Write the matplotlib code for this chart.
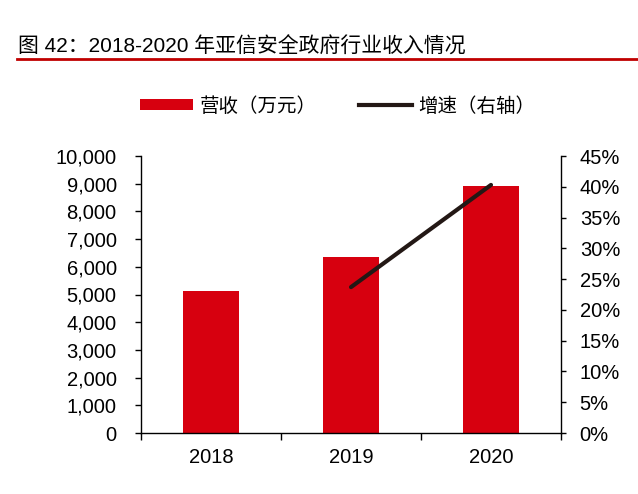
import matplotlib
matplotlib.use("Agg")
import matplotlib.pyplot as plt
from matplotlib.ticker import FuncFormatter, FixedLocator
from matplotlib.patches import Patch
from matplotlib.lines import Line2D

plt.rcParams['font.family'] = ['Liberation Sans', 'Noto Sans CJK SC', 'DejaVu Sans']

years = ["2018", "2019", "2020"]
revenue = [5140, 6340, 8910]          # 万元
growth_years = ["2019", "2020"]
growth = [23.7, 40.3]                  # %

title = "图 42：2018-2020 年亚信安全政府行业收入情况"
bar_label = "营收（万元）"
line_label = "增速（右轴）"

bar_color = "#D7000F"
line_color = "#231815"
mixed = ['Liberation Sans', 'Noto Sans CJK SC']
cjk = ['Noto Sans CJK SC', 'Liberation Sans']

fig = plt.figure(figsize=(6.38, 4.94), dpi=100)
ax = fig.add_axes([141/638, 1-433/494, 420/638, 277/494])

x = list(range(len(years)))
ax.bar(x, revenue, width=0.4, color=bar_color, zorder=2)
ax.set_xlim(-0.5, 2.5)
ax.set_ylim(0, 10000)
ax.set_yticks(range(0, 10001, 1000))
ax.yaxis.set_major_formatter(FuncFormatter(lambda v, p: f"{int(v):,}"))
ax.set_xticks(x)
ax.set_xticklabels(years)
ax.xaxis.set_minor_locator(FixedLocator([-0.5, 0.5, 1.5, 2.5]))
ax.tick_params(axis='x', which='major', length=0, labelsize=14.5, pad=11)
ax.tick_params(axis='x', which='minor', length=5, width=1, direction='out')
ax.tick_params(axis='y', labelsize=14.5, length=4.5, width=1, direction='out', pad=13)
ax.spines['top'].set_visible(False)
ax.spines['right'].set_visible(False)
for s in ['left', 'bottom']:
    ax.spines[s].set_linewidth(1)

ax2 = ax.twinx()
gx = [years.index(y) for y in growth_years]
ax2.plot(gx, growth, color=line_color, linewidth=3, solid_capstyle='round', zorder=3)
ax2.set_ylim(0, 45)
ax2.set_yticks(range(0, 46, 5))
ax2.yaxis.set_major_formatter(FuncFormatter(lambda v, p: f"{int(v)}%"))
ax2.tick_params(axis='y', labelsize=14.5, length=3.5, width=1, direction='out', pad=10)
ax2.spines['top'].set_visible(False)
ax2.spines['left'].set_visible(False)
ax2.spines['bottom'].set_visible(False)
ax2.spines['right'].set_linewidth(1)

# Title and rule
fig.text(18/638, 1-47/494, title, fontsize=15, va='center', ha='left', family=mixed)
fig.add_artist(Line2D([17/638, 1.0], [1-59.5/494, 1-59.5/494], color="#C00000", linewidth=2))

# Legend
handles = [Patch(facecolor=bar_color, edgecolor='none'),
           Line2D([0], [0], color=line_color, linewidth=3)]
leg = fig.legend(handles, [bar_label, line_label], loc='center left', ncol=2,
                 bbox_to_anchor=(140/638, 1-106/494), frameon=False,
                 borderpad=0, borderaxespad=0,
                 prop={'family': cjk, 'size': 14}, handlelength=2.7,
                 handleheight=0.55, columnspacing=2.2, handletextpad=0.35)

fig.savefig("out.png", dpi=100)
